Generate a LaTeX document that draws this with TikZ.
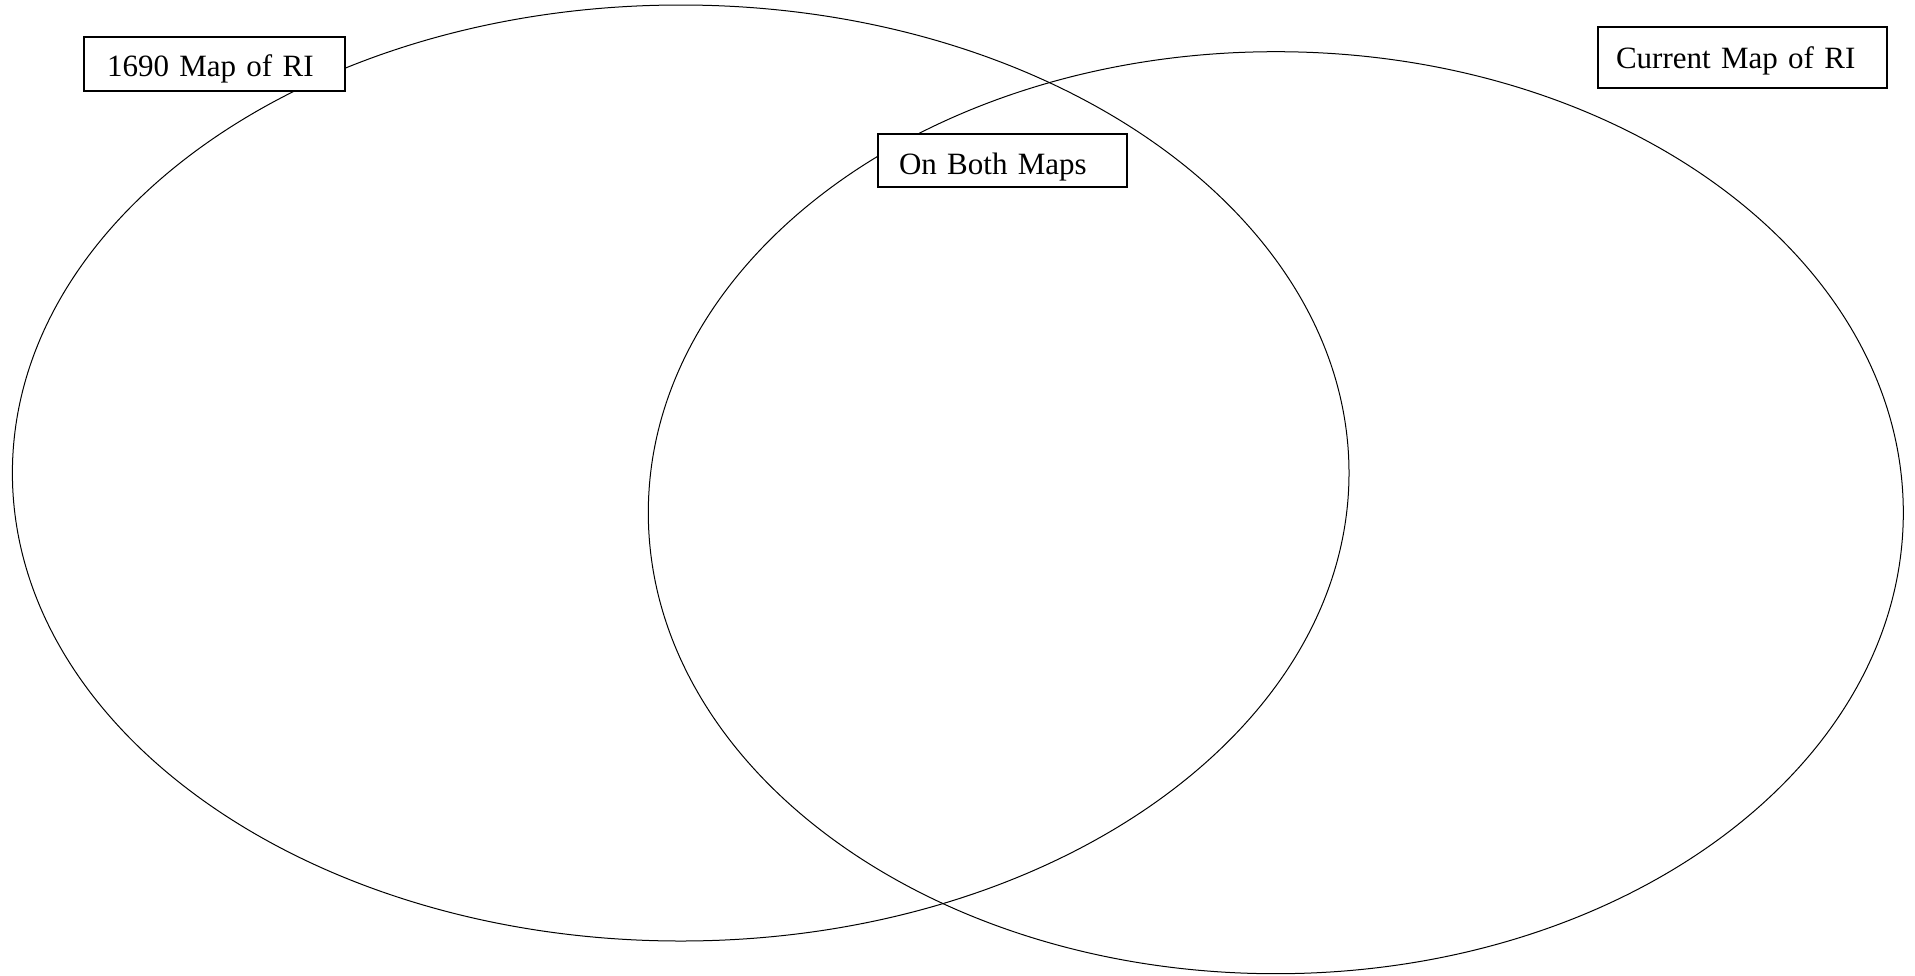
\documentclass[tikz,border=0pt]{standalone}
\usepackage{fontspec}
\setmainfont{Liberation Serif}
\tikzset{
  mapbox/.style={draw, fill=white, line width=1pt, inner ysep=0pt, align=left, anchor=base west, font=\fontsize{15.5}{19}\selectfont},
  ring/.style={line width=0.5pt}
}

\begin{document}
\begin{tikzpicture}[x=0.5pt,y=-0.5pt]
\useasboundingbox (0,0) rectangle (1915,975);

%centres
\coordinate (C1) at (680.7,473);
\coordinate (C2) at (1275.8,512.7);

%the two maps
\draw[ring] (C1) ellipse [x radius=334.15pt, y radius=234pt];
\draw[ring] (C2) ellipse [x radius=313.75pt, y radius=230.5pt];

%labels
\node[mapbox, inner xsep=11.5pt, text width=107.5pt, text height=19.5pt, text depth=7.5pt] (old) at (83,76) {\mbox{1690 Map of RI}};
\node[mapbox, inner xsep=10.5pt, text width=103.5pt, text height=20pt, text depth=6.5pt] (both) at (877,174) {\mbox{On Both Maps}};
\node[mapbox, inner xsep=9pt, text width=126.5pt, text height=20.5pt, text depth=10pt] (now) at (1597,68) {\mbox{Current Map of RI}};

\end{tikzpicture}
\end{document}
